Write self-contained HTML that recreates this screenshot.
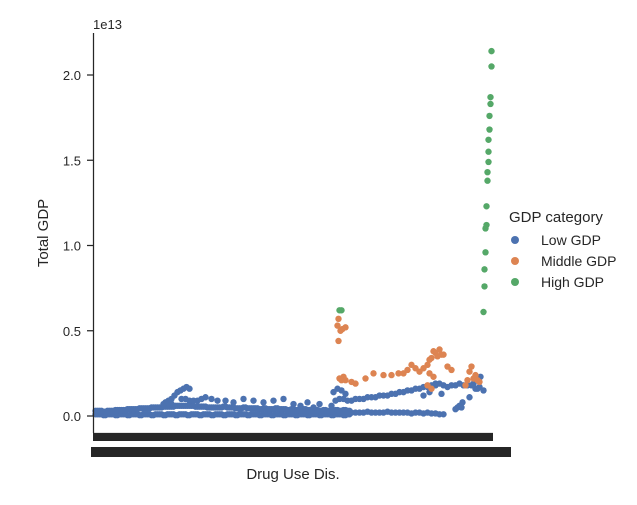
<!DOCTYPE html>
<html><head><meta charset="utf-8"><style>
body{margin:0;background:#fff;}
svg{font-family:"Liberation Sans",sans-serif;}
</style></head><body>
<svg width="637" height="500" viewBox="0 0 637 500" xmlns="http://www.w3.org/2000/svg">
<rect width="637" height="500" fill="#fff"/>
<g id="marks"></g>
<line x1="93.5" y1="33" x2="93.5" y2="433" stroke="#262626" stroke-width="1.25"/>
<line x1="93" y1="433.5" x2="493" y2="433.5" stroke="#262626" stroke-width="1.25"/>
<rect x="93" y="433" width="400" height="8" fill="#262626"/>
<rect x="91" y="447" width="420" height="10" fill="#262626"/>
<g id="yticks"></g>
<text x="93" y="29" font-size="13" fill="#262626">1e13</text>
<text transform="translate(48,233) rotate(-90)" text-anchor="middle" font-size="15" fill="#262626">Total GDP</text>
<text x="293" y="479" text-anchor="middle" font-size="15" fill="#262626">Drug Use Dis.</text>
<g>
<text x="509" y="222" font-size="15" fill="#262626">GDP category</text>
<circle cx="515" cy="240" r="4" fill="#4c72b0"/>
<text x="541" y="245" font-size="14" fill="#262626">Low GDP</text>
<circle cx="515" cy="261" r="4" fill="#dd8452"/>
<text x="541" y="266" font-size="14" fill="#262626">Middle GDP</text>
<circle cx="515" cy="282" r="4" fill="#55a868"/>
<text x="541" y="287" font-size="14" fill="#262626">High GDP</text>
</g>
</svg>
<script>
// values in units of 1e12; categories are index positions (0..399)
const yTicks=[0,5,10,15,20];
const yTickLabels=["0.0","0.5","1.0","1.5","2.0"];
const baseCats=[2,6,10,14,18,22,26,30,34,38,42,46,50,54,58,62,66,70,74,78,82,86,90,94,98,102,106,110,114,118,122,126,130,134,138,142,146,150,154,158,162,166,170,174,178,182,186,190,194,198,202,206,210,214,218,222,226,230,234,238,242,246,250,254];
const baseLowVals=[0.1,0.1,0.05,0.1,0.1,0.05,0.1,0.1,0.05,0.1,0.1,0.05,0.1,0.1,0.05,0.1,0.1,0.05,0.1,0.1,0.05,0.1,0.1,0.05,0.1,0.1,0.05,0.1,0.1,0.05,0.1,0.1,0.05,0.1,0.1,0.05,0.1,0.1,0.05,0.1,0.1,0.05,0.1,0.1,0.05,0.1,0.1,0.05,0.1,0.1,0.05,0.1,0.1,0.05,0.1,0.1,0.05,0.1,0.1,0.05,0.1,0.1,0.05,0.1];
const baseHighVals=[0.3,0.3,0.25,0.3,0.3,0.35,0.35,0.35,0.4,0.4,0.4,0.45,0.45,0.45,0.5,0.5,0.5,0.55,0.55,0.55,0.6,0.6,0.6,0.6,0.6,0.55,0.55,0.55,0.5,0.5,0.5,0.5,0.55,0.5,0.5,0.45,0.45,0.5,0.45,0.45,0.45,0.4,0.45,0.4,0.4,0.45,0.4,0.4,0.35,0.4,0.35,0.35,0.4,0.35,0.3,0.35,0.3,0.35,0.3,0.3,0.35,0.3,0.35,0.3];
const bumpCats=[70,72,74,75,78,78,81,84,87,90,93,96];
const bumpVals=[0.7,0.8,0.8,0.9,1.0,0.7,1.2,1.4,1.5,1.6,1.7,1.6];
const scatterCats=[88,92,96,100,104,108,112,118,124,132,140,150,160,170,180,190,200,207,214,220,226];
const scatterVals=[1.0,1.0,0.9,0.9,0.9,1.0,1.1,1.0,0.9,0.9,0.8,1.0,0.9,0.8,0.9,1.0,0.7,0.6,0.8,0.5,0.7];
const lowRowCats=[238,246,252,258,262,266,270,274,278,282,286,290,294,298,302,306,310,314,318,322,326,330,334,338,342,346,350];
const lowRowVals=[0.3,0.2,0.2,0.2,0.2,0.2,0.2,0.25,0.2,0.2,0.2,0.2,0.25,0.2,0.2,0.2,0.2,0.2,0.15,0.2,0.2,0.15,0.2,0.15,0.15,0.1,0.1];
const riseCats=[238,242,246,250,254,258,262,266,270,274,278,282,286,290,294,298,302,306,310,314,318,322,326,330,334,338,342,346,350,354,358,362,366,370,374,378,382,386,390];
const riseVals=[0.6,0.9,1.0,1.0,0.9,0.9,1.0,1.0,1.0,1.1,1.1,1.1,1.2,1.2,1.2,1.3,1.3,1.4,1.4,1.5,1.5,1.6,1.6,1.7,1.7,1.8,1.8,1.9,1.8,1.7,1.8,1.8,1.9,1.8,1.8,1.8,1.6,1.7,1.5];
const extraCats=[240,244,248,252,330,336,342,348,362,364,366,368,369,376,380,384,387];
const extraVals=[1.4,1.6,1.5,1.3,1.2,1.4,1.9,1.3,0.4,0.5,0.6,0.5,0.8,1.1,1.9,1.6,2.3];
const midCats=[245,247,244,249,252,245,246,250,248,252,258,262,272,280,290,298,305,310,314,318,322,326,330,334,338,342,346,350,354,358,336,340,344,348,334,338,372,374,376,378,380,382,384,386,336,340];
const midVals=[4.4,5.0,5.3,5.1,5.2,5.7,2.2,2.3,2.1,2.1,2.0,1.9,2.2,2.5,2.4,2.4,2.5,2.5,2.7,3.0,2.8,2.6,2.8,3.0,3.4,3.7,3.9,3.6,2.9,2.7,3.3,3.8,3.5,3.6,1.8,1.6,1.8,2.1,2.6,2.9,2.2,2.4,2.1,2.0,2.5,2.3];
const highCats=[246,248,390,391,391,392,392,393,393,394,394,395,395,395,396,396,397,397,398,398];
const highVals=[6.2,6.2,6.1,7.6,8.6,9.6,11.0,11.2,12.3,13.8,14.3,14.9,15.5,16.2,16.8,17.6,18.3,18.7,20.5,21.4];
const N=400, X0=93, X1=493;
function xScale(c){return X0+(c+0.5)*(X1-X0)/N;}
function yScale(v){return 416-v*17.05;}
const ns="http://www.w3.org/2000/svg";
const marks=document.getElementById('marks');
function draw(cats,vals,color,name){
  const n=Math.min(cats.length,vals.length);
  for(let i=0;i<n;i++){
    const c=document.createElementNS(ns,'circle');
    c.setAttribute('cx',xScale(cats[i]));c.setAttribute('cy',yScale(vals[i]));
    c.setAttribute('r',3.2);c.setAttribute('fill',color);
    
    
    marks.appendChild(c);
  }
}
const B='#4c72b0';
draw(baseCats,baseLowVals,B,'point-low-gdp');
draw(baseCats.map(c=>c+2),baseLowVals,B,'point-low-gdp');
draw(baseCats,baseHighVals,B,'point-low-gdp');
draw(baseCats.map(c=>c+2),baseHighVals,B,'point-low-gdp');
draw(bumpCats,bumpVals,B,'point-low-gdp');
draw(scatterCats,scatterVals,B,'point-low-gdp');
draw(lowRowCats,lowRowVals,B,'point-low-gdp');
draw(riseCats,riseVals,B,'point-low-gdp');
draw(extraCats,extraVals,B,'point-low-gdp');
draw(midCats,midVals,'#dd8452','point-middle-gdp');
draw(highCats,highVals,'#55a868','point-high-gdp');
const yt=document.getElementById('yticks');
yTicks.forEach((v,i)=>{
  const y=yScale(v);
  const l=document.createElementNS(ns,'line');
  l.setAttribute('x1',87);l.setAttribute('x2',93);l.setAttribute('y1',y);l.setAttribute('y2',y);
  l.setAttribute('stroke','#262626');l.setAttribute('stroke-width',1.25);
  
  
  yt.appendChild(l);
  const t=document.createElementNS(ns,'text');
  t.setAttribute('x',81);t.setAttribute('y',y+5);t.setAttribute('text-anchor','end');
  t.setAttribute('font-size',13);t.setAttribute('fill','#262626');
  t.textContent=yTickLabels[i];
  
  
  yt.appendChild(t);
});
</script>
</body></html>
